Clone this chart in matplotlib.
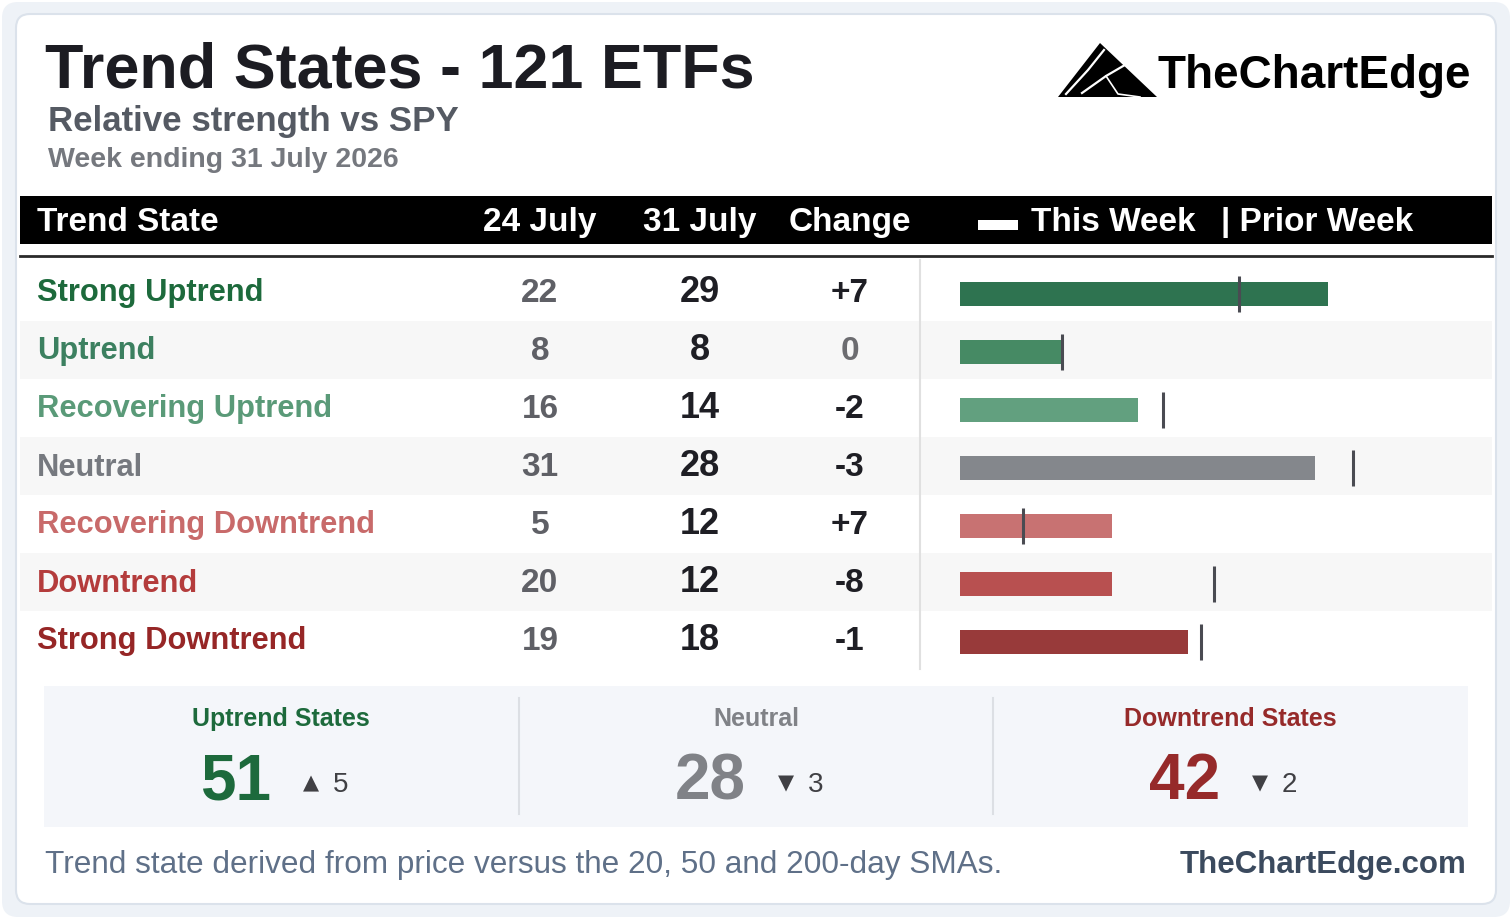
import matplotlib
matplotlib.use("Agg")
import matplotlib.pyplot as plt
from matplotlib.patches import FancyBboxPatch, Rectangle, Polygon

plt.rcParams['font.family'] = ['Liberation Sans', 'DejaVu Sans']

# data
states = ["Strong Uptrend", "Uptrend", "Recovering Uptrend", "Neutral",
          "Recovering Downtrend", "Downtrend", "Strong Downtrend"]
prior_week = [22, 8, 16, 31, 5, 20, 19]
this_week = [29, 8, 14, 28, 12, 12, 18]
label_colors = ["#1d6a3c", "#3c8060", "#5a9a78", "#76797f",
                "#c86a6a", "#b43c3c", "#962626"]
bar_colors = ["#2e7350", "#468a64", "#62a07f", "#84878c",
              "#c87272", "#b85050", "#983a3a"]
headers = ["Trend State", "24 July", "31 July", "Change"]
groups = ["Uptrend States", "Neutral", "Downtrend States"]
group_members = [[0, 1, 2], [3], [4, 5, 6]]
group_colors = ["#1d6a3c", "#808287", "#962a2a"]

W, H = 1512, 919
fig = plt.figure(figsize=(W / 100, H / 100), dpi=100)
fig.patch.set_facecolor("white")
ax = fig.add_axes([0, 0, 1, 1])
ax.set_xlim(0, W)
ax.set_ylim(H, 0)
ax.axis("off")

# background + card
ax.add_patch(FancyBboxPatch((2, 2), W - 4, H - 4, boxstyle="round,pad=0,rounding_size=16",
                            fc="#eef2f7", ec="none"))
ax.add_patch(FancyBboxPatch((16, 14), 1480, 890, boxstyle="round,pad=0,rounding_size=14",
                            fc="white", ec="#dbe2eb", lw=1.5))

# title block
ax.text(45, 88, "Trend States - 121 ETFs", fontsize=45.3, fontweight="bold",
        color="#1c1c22", va="baseline")
ax.text(48, 131, "Relative strength vs SPY", fontsize=25.1, fontweight="bold",
        color="#555a63", va="baseline")
ax.text(48, 167, "Week ending 31 July 2026", fontsize=20.5, fontweight="bold",
        color="#75787e", va="baseline")

# logo
ax.add_patch(Polygon([(1058, 97), (1100, 43), (1157, 97)], closed=True, fc="black", ec="none"))
ax.plot([1066, 1088, 1104], [94, 70, 50], color="white", lw=1.6)
ax.plot([1082, 1106, 1130], [93, 76, 62], color="white", lw=1.6)
ax.plot([1106, 1118, 1140], [76, 94, 97], color="white", lw=1.2)
ax.text(1158, 88, "TheChartEdge", fontsize=33, fontweight="bold", color="black",
        va="baseline")

# header bar
ax.add_patch(Rectangle((20, 196), 1472, 48, fc="black", ec="none"))
ax.text(37, 231, headers[0], fontsize=24, fontweight="bold", color="white", va="baseline")
col_x = [540, 700, 850]
for cx, h in zip(col_x, headers[1:]):
    ax.text(cx, 231, h, fontsize=24, fontweight="bold", color="white",
            va="baseline", ha="center")
ax.add_patch(Rectangle((978, 220), 40, 10, fc="white", ec="none"))
ax.text(1031, 231, "This Week", fontsize=24, fontweight="bold", color="white", va="baseline")
ax.text(1221, 231, "| Prior Week", fontsize=24, fontweight="bold", color="white", va="baseline")
ax.plot([20, 1492], [256, 256], color="#2a2a2a", lw=2)

# table rows
row_top0, row_h = 263, 58
for i, name in enumerate(states):
    top = row_top0 + row_h * i
    if i % 2 == 1:
        ax.add_patch(Rectangle((20, top), 1472, row_h, fc="#f7f7f7", ec="none"))
    base = top + 38.5
    ax.text(37, base, name, fontsize=22.2, fontweight="bold", color=label_colors[i], va="baseline")
    ax.text(col_x[0], base, str(prior_week[i]), fontsize=24, fontweight="bold",
            color="#5f6066", ha="center", va="baseline")
    ax.text(col_x[1], base + 1, str(this_week[i]), fontsize=26, fontweight="bold",
            color="#1e1e24", ha="center", va="baseline")
    chg = this_week[i] - prior_week[i]
    ax.text(col_x[2], base, f"{chg:+d}" if chg else "0", fontsize=24, fontweight="bold",
            color="#1e1e24" if chg else "#6c6c70", ha="center", va="baseline")
ax.plot([920, 920], [260, 669], color="#e0e0e0", lw=1.5)

# bars
px_per_unit = 368 / 29
bx = fig.add_axes([960 / W, 1 - 669 / H, 532 / W, 406 / H])
bx.set_xlim(0, 532 / px_per_unit)
bx.set_ylim(6.5, -0.5)
bx.axis("off")
ys = [i + 2 / row_h for i in range(len(states))]
bx.barh(ys, this_week, height=24 / row_h, color=bar_colors, left=0)
bx.vlines(prior_week, [y - 18 / row_h for y in ys], [y + 18 / row_h for y in ys],
          color="#4a4b52", lw=2.2)

# summary panel
ax.add_patch(Rectangle((44, 686), 1424, 141, fc="#f4f6fa", ec="none"))
for dx in [519, 993]:
    ax.plot([dx, dx], [698, 814], color="#dcdfe4", lw=1.5)
group_x = [281, 756, 1230]
for gx, g, mem, gc in zip(group_x, groups, group_members, group_colors):
    now = sum(this_week[k] for k in mem)
    before = sum(prior_week[k] for k in mem)
    d = now - before
    ax.text(gx, 726, g, fontsize=18, fontweight="bold", color=gc, ha="center", va="baseline")
    ax.text(gx - 10, 799, str(now), fontsize=46, fontweight="bold", color=gc,
            ha="right", va="baseline")
    ax.text(gx + 30, 783, "▲" if d > 0 else "▼", fontsize=15, color="#404044",
            ha="center", va="center", family="DejaVu Sans")
    ax.text(gx + 52, 792, str(abs(d)), fontsize=20, color="#404044", va="baseline")

# footer
ax.text(45, 873, "Trend state derived from price versus the 20, 50 and 200-day SMAs.",
        fontsize=22.7, color="#5f7088", va="baseline")
ax.text(1466, 873, "TheChartEdge.com", fontsize=22.5, fontweight="bold", color="#3b4a5e",
        ha="right", va="baseline")

fig.savefig("out.png", dpi=100)
